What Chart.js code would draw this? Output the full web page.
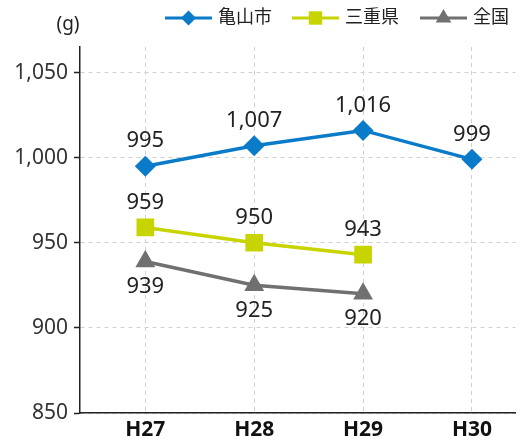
<!DOCTYPE html>
<html>
<head>
<meta charset="utf-8">
<script src="https://cdn.jsdelivr.net/npm/chart.js@4"></script>
<style>
  html, body { margin: 0; padding: 0; background: #fff; }
  #wrap { width: 528px; height: 441px; }
</style>
</head>
<body>
<div id="wrap"><canvas id="chart" width="528" height="441"></canvas></div>
<script>
// Data
const years = ['H27', 'H28', 'H29', 'H30'];
const kameyama = [995, 1007, 1016, 999];
const mie = [959, 950, 943, null];
const national = [939, 925, 920, null];
const yTicks = [850, 900, 950, 1000, 1050];
const unitLabel = '(g)';

const FONT = '"Noto Sans", "Noto Sans CJK JP", sans-serif';

// x positions are the category index, so ticks can sit unevenly inside the axis
const toPoints = arr => arr
  .map((v, i) => ({ x: i, y: v }))
  .filter(p => p.y !== null);

// Value labels above or below each point
const valueLabels = {
  id: 'valueLabels',
  afterDatasetsDraw(chart) {
    const ctx = chart.ctx;
    ctx.save();
    ctx.font = '22px ' + FONT;
    ctx.fillStyle = '#222';
    ctx.textAlign = 'center';
    ctx.textBaseline = 'middle';
    chart.data.datasets.forEach((ds, di) => {
      const meta = chart.getDatasetMeta(di);
      meta.data.forEach((pt, i) => {
        const raw = ds.data[i];
        if (!raw) return;
        ctx.fillText(raw.y.toLocaleString('en-US'), pt.x, pt.y + ds.labelOffset);
      });
    });
    ctx.restore();
  }
};

// Legend with line + marker, plus the unit text
const lineLegend = {
  id: 'lineLegend',
  afterDraw(chart) {
    const ctx = chart.ctx;
    const starts = [165, 292, 420];
    ctx.save();
    ctx.font = '18px ' + FONT;
    ctx.textBaseline = 'middle';
    chart.data.datasets.forEach((ds, i) => {
      const x0 = starts[i];
      const y = 18;
      ctx.strokeStyle = ds.borderColor;
      ctx.lineWidth = 3;
      ctx.beginPath();
      ctx.moveTo(x0, y);
      ctx.lineTo(x0 + 47, y);
      ctx.stroke();
      ctx.fillStyle = ds.pointBackgroundColor;
      Chart.helpers.drawPoint(ctx, {
        pointStyle: ds.pointStyle,
        radius: ds.legendRadius,
        borderWidth: 0
      }, x0 + 23.5, y);
      ctx.fillStyle = '#222';
      ctx.textAlign = 'left';
      ctx.fillText(ds.label, x0 + 53, y);
    });
    ctx.font = '19px ' + FONT;
    ctx.textAlign = 'center';
    ctx.fillStyle = '#222';
    ctx.fillText(unitLabel, 68, 25);
    ctx.restore();
  }
};

new Chart(document.getElementById('chart'), {
  type: 'line',
  data: {
    datasets: [
      {
        label: '亀山市',
        data: toPoints(kameyama),
        borderColor: '#0a7bc9',
        pointBackgroundColor: '#0a7bc9',
        pointBorderColor: '#0a7bc9',
        pointStyle: 'rectRot',
        pointRadius: 10.5,
        legendRadius: 7.5,
        labelOffset: -25
      },
      {
        label: '三重県',
        data: toPoints(mie),
        borderColor: '#c8d400',
        pointBackgroundColor: '#c8d400',
        pointBorderColor: '#c8d400',
        pointStyle: 'rect',
        pointRadius: 12.5,
        legendRadius: 9.5,
        labelOffset: -25
      },
      {
        label: '全国',
        data: toPoints(national),
        borderColor: '#707070',
        pointBackgroundColor: '#707070',
        pointBorderColor: '#707070',
        pointStyle: 'triangle',
        pointRadius: 11.5,
        legendRadius: 9,
        labelOffset: 25
      }
    ]
  },
  options: {
    responsive: false,
    animation: false,
    elements: {
      line: { borderWidth: 3.5, tension: 0 },
      point: { borderWidth: 0 }
    },
    layout: { padding: { top: 47, right: 12, left: 0, bottom: 0 } },
    plugins: {
      legend: { display: false },
      tooltip: { enabled: false }
    },
    scales: {
      x: {
        type: 'linear',
        min: -0.6,
        max: 3.4,
        afterBuildTicks: scale => { scale.ticks = years.map((_, i) => ({ value: i })); },
        afterFit: scale => { scale.height = 28; },
        ticks: {
          autoSkip: false,
          maxRotation: 0,
          padding: 4,
          color: '#111',
          font: { family: FONT, size: 21, weight: 'bold' },
          callback: v => years[v]
        },
        grid: {
          color: '#d0d0d0',
          drawTicks: false
        },
        border: { color: '#222', width: 1.5, dash: [4, 4] },
      },
      y: {
        min: 850,
        max: 1065,
        afterBuildTicks: scale => { scale.ticks = yTicks.map(v => ({ value: v })); },
        afterFit: scale => { scale.width = 80; },
        ticks: {
          padding: 6,
          color: '#333',
          font: { family: FONT, size: 21 },
          callback: v => v.toLocaleString('en-US')
        },
        grid: {
          color: '#d0d0d0',
          tickLength: 6,
          tickColor: '#222',
          tickBorderDash: [],
          tickWidth: 1.5
        },
        border: { color: '#222', width: 1.5, dash: [4, 4] }
      }
    }
  },
  plugins: [valueLabels, lineLegend]
});
</script>
</body>
</html>
